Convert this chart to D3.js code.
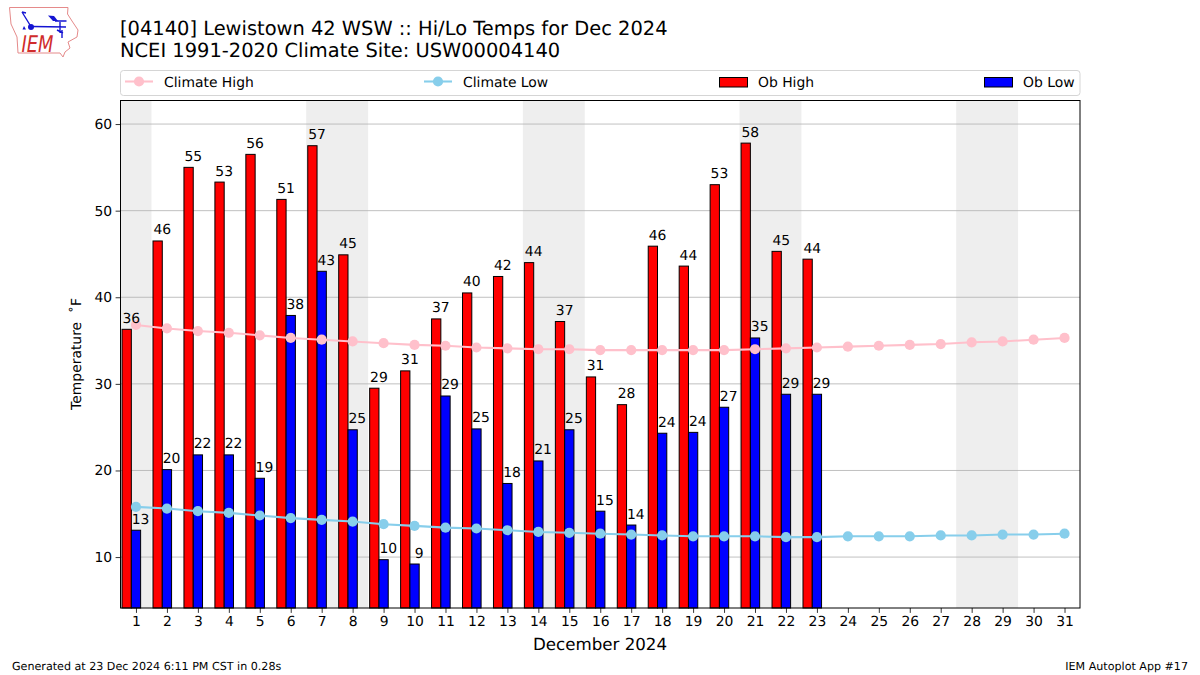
<!DOCTYPE html>
<html><head><meta charset="utf-8">
<script src="https://cdn.jsdelivr.net/npm/d3@7/dist/d3.min.js"></script>
<style>
html,body{margin:0;padding:0;background:#fff}
svg{display:block}
text{font-family:"DejaVu Sans",sans-serif;fill:#000;text-rendering:geometricPrecision}
</style></head><body>
<svg id="c" width="1200" height="675"></svg>
<script>
const days = d3.range(1, 32);
const obHigh = [36.3,46.5,55.0,53.3,56.5,51.3,57.5,44.9,29.5,31.5,37.5,40.5,42.4,44.0,37.2,30.8,27.6,45.9,43.6,53.0,57.8,45.3,44.4];
const obLow = [13.1,20.1,21.8,21.8,19.1,37.9,43.0,24.7,9.7,9.2,28.6,24.8,18.5,21.1,24.7,15.3,13.7,24.3,24.4,27.3,35.3,28.8,28.8];
const highLabels = ["36","46","55","53","56","51","57","45","29","31","37","40","42","44","37","31","28","46","44","53","58","45","44"];
const lowLabels = ["13","20","22","22","19","38","43","25","10","9","29","25","18","21","25","15","14","24","24","27","35","29","29"];
const climateHigh = [36.8,36.4,36.1,35.9,35.6,35.3,35.1,34.9,34.7,34.5,34.4,34.2,34.1,34.0,34.0,33.9,33.9,33.9,33.9,33.9,34.0,34.1,34.2,34.3,34.4,34.5,34.6,34.8,34.9,35.1,35.3];
const climateLow = [15.8,15.6,15.3,15.1,14.8,14.5,14.3,14.1,13.8,13.6,13.4,13.3,13.1,12.9,12.8,12.7,12.6,12.5,12.4,12.4,12.4,12.3,12.3,12.4,12.4,12.4,12.5,12.5,12.6,12.6,12.7];
const weekends = [[0.5,1.5],[6.5,8.5],[13.5,15.5],[20.5,22.5],[27.5,29.5]];
const yTicks = [10,20,30,40,50,60];
const titleLines = ["[04140] Lewistown 42 WSW :: Hi/Lo Temps for Dec 2024","NCEI 1991-2020 Climate Site: USW00004140"];

const L=120.5,R=1080,T=100.5,B=608;
const svg=d3.select("#c");
const x=d3.scaleLinear().domain([0.5,31.5]).range([L,R]);
const y=d3.scaleLinear().domain([4.12,62.72]).range([B,T]);
const barW=0.3;

// shading
svg.append("g").selectAll("rect").data(weekends).join("rect")
 .attr("x",d=>x(d[0])).attr("width",d=>x(d[1])-x(d[0]))
 .attr("y",T).attr("height",B-T).attr("fill","#eeeeee");
// grid
svg.append("g").selectAll("line").data(yTicks).join("line")
 .attr("x1",L).attr("x2",R).attr("y1",d=>y(d)).attr("y2",d=>y(d))
 .attr("stroke","#b0b0b0").attr("stroke-width",0.8);
// bars: centered on day-0.3 (high) and day (low)
const bar=(vals,off,col)=>svg.append("g").selectAll("rect").data(vals).join("rect")
 .attr("x",(d,i)=>x(days[i]+off-barW/2)).attr("width",x(barW)-x(0))
 .attr("y",d=>y(d)).attr("height",d=>B-y(d))
 .attr("fill",col).attr("stroke","#000").attr("stroke-width",1);
bar(obHigh,-barW,"#ff0000");
bar(obLow,0,"#0000ff");
// climate lines
const line=d3.line().x((d,i)=>x(days[i])).y(d=>y(d));
const clim=(vals,col)=>{
 svg.append("path").attr("d",line(vals)).attr("fill","none").attr("stroke",col).attr("stroke-width",2.08);
 svg.append("g").selectAll("circle").data(vals).join("circle")
  .attr("cx",(d,i)=>x(days[i])).attr("cy",d=>y(d)).attr("r",5.1).attr("fill",col);
};
clim(climateHigh,"#ffc0cb");
clim(climateLow,"#87ceeb");
// value labels, centered on the right edge of each bar
const lab=(vals,labels,off)=>svg.append("g").selectAll("text").data(vals).join("text")
 .attr("x",(d,i)=>x(days[i]+off+barW/2)).attr("y",d=>y(d)-6.5).attr("text-anchor","middle")
 .attr("font-size",13.9).text((d,i)=>labels[i]);
lab(obHigh,highLabels,-barW);
lab(obLow,lowLabels,0);
// frame
svg.append("rect").attr("x",L).attr("y",T).attr("width",R-L).attr("height",B-T)
 .attr("fill","none").attr("stroke","#000").attr("stroke-width",1);
// axes
const xAxis=d3.axisBottom(x).tickValues(days).tickSize(4.9).tickPadding(3.5).tickFormat(d3.format("d"));
const gx=svg.append("g").attr("transform",`translate(0,${B})`).call(xAxis);
const yAxis=d3.axisLeft(y).tickValues(yTicks).tickSize(4.9).tickPadding(3.5);
const gy=svg.append("g").attr("transform",`translate(${L},0)`).call(yAxis);
[gx,gy].forEach(g=>{g.select(".domain").remove();
 g.selectAll("text").attr("font-size",13.9).attr("font-family","DejaVu Sans");
 g.selectAll("line").attr("stroke","#000").attr("stroke-width",0.8);});
// titles
svg.append("g").selectAll("text").data(titleLines).join("text")
 .attr("x",120).attr("y",(d,i)=>35+i*22).attr("font-size",19.44).text(d=>d);
svg.append("text").attr("x",600).attr("y",649.5).attr("text-anchor","middle").attr("font-size",16.67).text("December 2024");
svg.append("text").attr("transform","translate(81,354) rotate(-90)").attr("text-anchor","middle").attr("font-size",13.9).text("Temperature \u00A0˚F");
svg.append("text").attr("x",12).attr("y",670).attr("font-size",11.11).text("Generated at 23 Dec 2024 6:11 PM CST in 0.28s");
svg.append("text").attr("x",1188).attr("y",670).attr("text-anchor","end").attr("font-size",11.11).text("IEM Autoplot App #17");
// legend
svg.append("rect").attr("x",120.5).attr("y",70.5).attr("width",959.5).attr("height",25).attr("rx",3)
 .attr("fill","#fff").attr("stroke","#d5d5d5").attr("stroke-width",1);
const lg=svg.append("g");
[["Climate High","#ffc0cb",125,164],["Climate Low","#87ceeb",424,463]].forEach(([t,c,a,tx])=>{
 lg.append("line").attr("x1",a).attr("x2",a+28).attr("y1",81.5).attr("y2",81.5).attr("stroke",c).attr("stroke-width",2.08);
 lg.append("circle").attr("cx",a+14).attr("cy",81.5).attr("r",5.1).attr("fill",c);
 lg.append("text").attr("x",tx).attr("y",86.5).attr("font-size",13.9).text(t);
});
[["Ob High","#ff0000",719.5,758],["Ob Low","#0000ff",984.5,1023]].forEach(([t,c,a,tx])=>{
 lg.append("rect").attr("x",a).attr("y",77.5).attr("width",28).attr("height",9.5).attr("fill",c).attr("stroke","#000");
 lg.append("text").attr("x",tx).attr("y",86.5).attr("font-size",13.9).text(t);
});
// IEM logo
const logo=svg.append("g");
logo.append("path").attr("d","M9.5 7.5 L68 7.5 L67.5 14 L72 21 L78 30 L77 37 L68 42 L70 48 L65 52 L63 57 L60 53 L18 53 L17 37 L11 24 Z")
 .attr("fill","#fff").attr("stroke","#e58a8a").attr("stroke-width",1);
logo.append("path").attr("d","M32 26.5 L66 27 M55 21 L66.5 21 M60 22 L60 33 M22 12 L30 25 M22 12 L26 13 M57 30 L63 33 M62 30 L62 38")
 .attr("fill","none").attr("stroke","#1414d2").attr("stroke-width",1.4);
logo.append("path").attr("d","M48 15.5 L54 16 L58 21 L53 21 Z").attr("fill","#1414d2");
logo.append("path").attr("d","M24 26 L26 29.5 L22.5 29.5 Z").attr("fill","#1414d2");
logo.append("circle").attr("cx",31).attr("cy",27).attr("r",3).attr("fill","#1414d2");
logo.append("text").attr("x",21.5).attr("y",52).attr("font-family","Liberation Serif").attr("font-style","italic").attr("font-size",23)
 .attr("textLength",32).attr("lengthAdjust","spacingAndGlyphs").style("fill","#d02c2c").text("IEM");
</script></body></html>
